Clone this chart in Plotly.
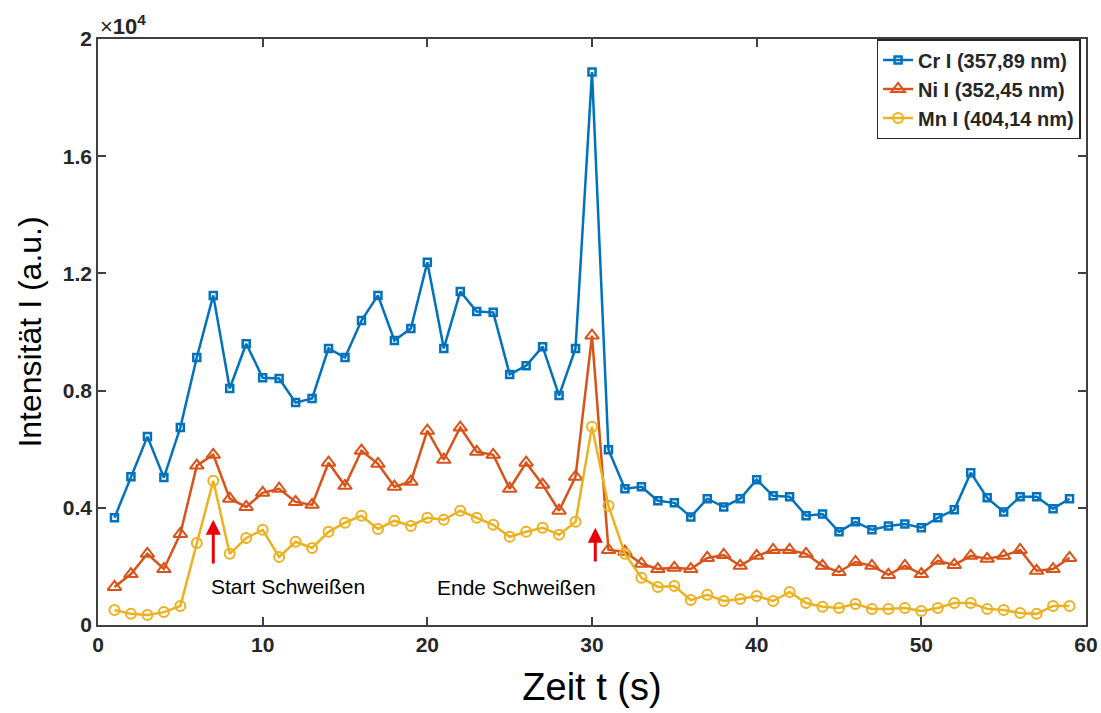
import plotly.graph_objects as go

t = list(range(1, 60))
cr = [3.66, 5.06, 6.43, 5.03, 6.74, 9.13, 11.25, 8.07, 9.6, 8.44, 8.41, 7.59, 7.73, 9.44, 9.13,
      10.39, 11.25, 9.71, 10.12, 12.38, 9.44, 11.38, 10.7, 10.67, 8.55, 8.85, 9.5, 7.83, 9.44,
      18.87, 5.98, 4.65, 4.72, 4.24, 4.17, 3.69, 4.31, 4.03, 4.31, 4.96, 4.41, 4.38, 3.73, 3.79,
      3.18, 3.52, 3.25, 3.38, 3.45, 3.32, 3.66, 3.93, 5.2, 4.34, 3.86, 4.38, 4.38, 3.97, 4.31]
ni = [1.3, 1.74, 2.43, 1.91, 3.11, 5.44, 5.81, 4.31, 4.03, 4.51, 4.65, 4.2, 4.1, 5.54, 4.75,
      5.95, 5.5, 4.72, 4.89, 6.63, 5.64, 6.74, 5.91, 5.81, 4.65, 5.54, 4.79, 3.9, 5.06,
      9.88, 2.56, 2.5, 2.09, 1.91, 1.95, 1.91, 2.29, 2.39, 2.02, 2.36, 2.56, 2.56, 2.43, 2.02,
      1.81, 2.15, 2.02, 1.71, 2.02, 1.74, 2.19, 2.05, 2.36, 2.26, 2.36, 2.56, 1.85, 1.91, 2.29]
mn = [0.51, 0.38, 0.34, 0.44, 0.65, 2.8, 4.92, 2.43, 2.97, 3.25, 2.32, 2.84, 2.63, 3.18, 3.49,
      3.73, 3.28, 3.56, 3.38, 3.66, 3.59, 3.9, 3.66, 3.42, 3.01, 3.18, 3.32, 3.08, 3.52,
      6.77, 4.07, 2.43, 1.61, 1.3, 1.33, 0.85, 1.03, 0.82, 0.89, 0.99, 0.82, 1.13, 0.75, 0.62,
      0.58, 0.72, 0.55, 0.55, 0.58, 0.48, 0.58, 0.75, 0.75, 0.55, 0.51, 0.41, 0.38, 0.65, 0.65]
cr = [v * 1000 for v in cr]
ni = [v * 1000 for v in ni]
mn = [v * 1000 for v in mn]

names = ["Cr I (357,89 nm)", "Ni I (352,45 nm)", "Mn I (404,14 nm)"]
colors = ["#0072BD", "#D95319", "#EDB120"]
y_ticks = [0, 4000, 8000, 12000, 16000, 20000]
y_tick_text = ["0", "0.4", "0.8", "1.2", "1.6", "2"]
x_ticks = [0, 10, 20, 30, 40, 50, 60]

fig = go.Figure()
fig.add_trace(go.Scatter(x=t, y=cr, name=names[0], mode="lines+markers",
                         line=dict(color=colors[0], width=2.5),
                         marker=dict(symbol="square-open", size=7, line=dict(width=2.5, color=colors[0]))))
fig.add_trace(go.Scatter(x=t, y=ni, name=names[1], mode="lines+markers",
                         line=dict(color=colors[1], width=2.5),
                         marker=dict(symbol="triangle-up-open", size=12, line=dict(width=2, color=colors[1]))))
fig.add_trace(go.Scatter(x=t, y=mn, name=names[2], mode="lines+markers",
                         line=dict(color=colors[2], width=2.5),
                         marker=dict(symbol="circle-open", size=10, line=dict(width=2, color=colors[2]))))

font = "Liberation Sans, Arial, sans-serif"
axis_common = dict(showline=True, linecolor="#404040", linewidth=1.5, mirror="ticks",
                   ticks="inside", ticklen=8, tickwidth=1.5, tickcolor="#404040",
                   showgrid=False, zeroline=False, automargin=False,
                   tickfont=dict(family=font, size=21, color="#262626", weight="bold"))
fig.update_xaxes(range=[0, 60], tickvals=x_ticks,
                 title=dict(text="Zeit t (s)", font=dict(family=font, size=38, color="black"), standoff=18),
                 **axis_common)
fig.update_yaxes(range=[0, 20000], tickvals=y_ticks, ticktext=y_tick_text,
                 title=dict(text="Intensität I (a.u.)", font=dict(family=font, size=32, color="black"), standoff=12),
                 **axis_common)

fig.add_annotation(xref="paper", yref="paper", x=0.0, y=1.0, xanchor="left", yanchor="bottom",
                   text="<span style='font-weight:normal'>×</span>10<sup>4</sup>", showarrow=False, yshift=-2,
                   font=dict(family=font, size=22, color="#262626", weight="bold"))

fig.add_annotation(x=7, y=3590, ax=7, ay=2050, axref="x", ayref="y", xref="x", yref="y",
                   showarrow=True, arrowhead=2, arrowsize=1, arrowwidth=3, arrowcolor="#E8000B", text="")
fig.add_annotation(x=30.2, y=3320, ax=30.2, ay=2120, axref="x", ayref="y", xref="x", yref="y",
                   showarrow=True, arrowhead=2, arrowsize=1, arrowwidth=3, arrowcolor="#E8000B", text="")
fig.add_annotation(x=6.75, y=1300, xref="x", yref="y", xanchor="left", yanchor="middle",
                   text="Start Schweißen", showarrow=False, font=dict(family=font, size=21, color="black"))
fig.add_annotation(x=20.45, y=1270, xref="x", yref="y", xanchor="left", yanchor="middle",
                   text="Ende Schweißen", showarrow=False, font=dict(family=font, size=21, color="black"))

fig.update_layout(width=1101, height=713, margin=dict(l=98, r=15, t=39, b=88),
                  plot_bgcolor="white", paper_bgcolor="white",
                  legend=dict(x=0.9945, y=1.0, xanchor="right", yanchor="top",
                              bgcolor="white", bordercolor="#262626", borderwidth=1.5,
                              font=dict(family=font, size=20, color="#262626", weight="bold"),
                              tracegroupgap=0, itemwidth=30))

fig.write_html("out.html")
